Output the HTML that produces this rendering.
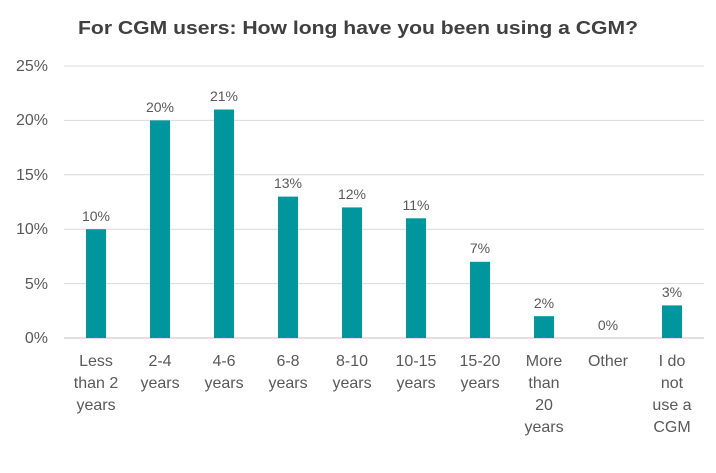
<!DOCTYPE html>
<html><head><style>
body{margin:0;background:#fff;}
svg text{font-family:"Liberation Sans",sans-serif;}
</style></head><body>
<svg width="716" height="468" xmlns="http://www.w3.org/2000/svg">
<rect width="716" height="468" fill="#fff"/>
<text x="78" y="34" textLength="560" lengthAdjust="spacingAndGlyphs" font-size="18" font-weight="bold" fill="#404040">For CGM users: How long have you been using a CGM?</text>
<g stroke="#d9d9d9" stroke-width="1">
<line x1="64" x2="704" y1="66" y2="66"/>
<line x1="64" x2="704" y1="120.4" y2="120.4"/>
<line x1="64" x2="704" y1="174.8" y2="174.8"/>
<line x1="64" x2="704" y1="229.2" y2="229.2"/>
<line x1="64" x2="704" y1="283.6" y2="283.6"/>
<line x1="64" x2="704" y1="338" y2="338" stroke="#bfbfbf"/>
</g>
<g font-size="16" fill="#595959" text-anchor="end">
<text x="48" y="71">25%</text>
<text x="48" y="125">20%</text>
<text x="48" y="180">15%</text>
<text x="48" y="234">10%</text>
<text x="48" y="289">5%</text>
<text x="48" y="343">0%</text>
</g>
<g fill="#00969e">
<rect x="86" y="229.2" width="20" height="108.8"/>
<rect x="150" y="120.4" width="20" height="217.6"/>
<rect x="214" y="109.5" width="20" height="228.5"/>
<rect x="278" y="196.6" width="20" height="141.4"/>
<rect x="342" y="207.4" width="20" height="130.6"/>
<rect x="406" y="218.3" width="20" height="119.7"/>
<rect x="470" y="261.8" width="20" height="76.2"/>
<rect x="534" y="316.2" width="20" height="21.8"/>
<rect x="662" y="305.4" width="20" height="32.6"/>
</g>
<g font-size="14" fill="#595959" text-anchor="middle">
<text x="96" y="221">10%</text>
<text x="160" y="112">20%</text>
<text x="224" y="101">21%</text>
<text x="288" y="188">13%</text>
<text x="352" y="199">12%</text>
<text x="416" y="210">11%</text>
<text x="480" y="253">7%</text>
<text x="544" y="308">2%</text>
<text x="608" y="330">0%</text>
<text x="672" y="297">3%</text>
</g>
<g font-size="16" fill="#595959" text-anchor="middle">
<text x="96" y="366">Less</text><text x="96" y="388">than 2</text><text x="96" y="410">years</text>
<text x="160" y="366">2-4</text><text x="160" y="388">years</text>
<text x="224" y="366">4-6</text><text x="224" y="388">years</text>
<text x="288" y="366">6-8</text><text x="288" y="388">years</text>
<text x="352" y="366">8-10</text><text x="352" y="388">years</text>
<text x="416" y="366">10-15</text><text x="416" y="388">years</text>
<text x="480" y="366">15-20</text><text x="480" y="388">years</text>
<text x="544" y="366">More</text><text x="544" y="388">than</text><text x="544" y="410">20</text><text x="544" y="432">years</text>
<text x="608" y="366">Other</text>
<text x="672" y="366">I do</text><text x="672" y="388">not</text><text x="672" y="410">use a</text><text x="672" y="432">CGM</text>
</g>
</svg>
</body></html>
